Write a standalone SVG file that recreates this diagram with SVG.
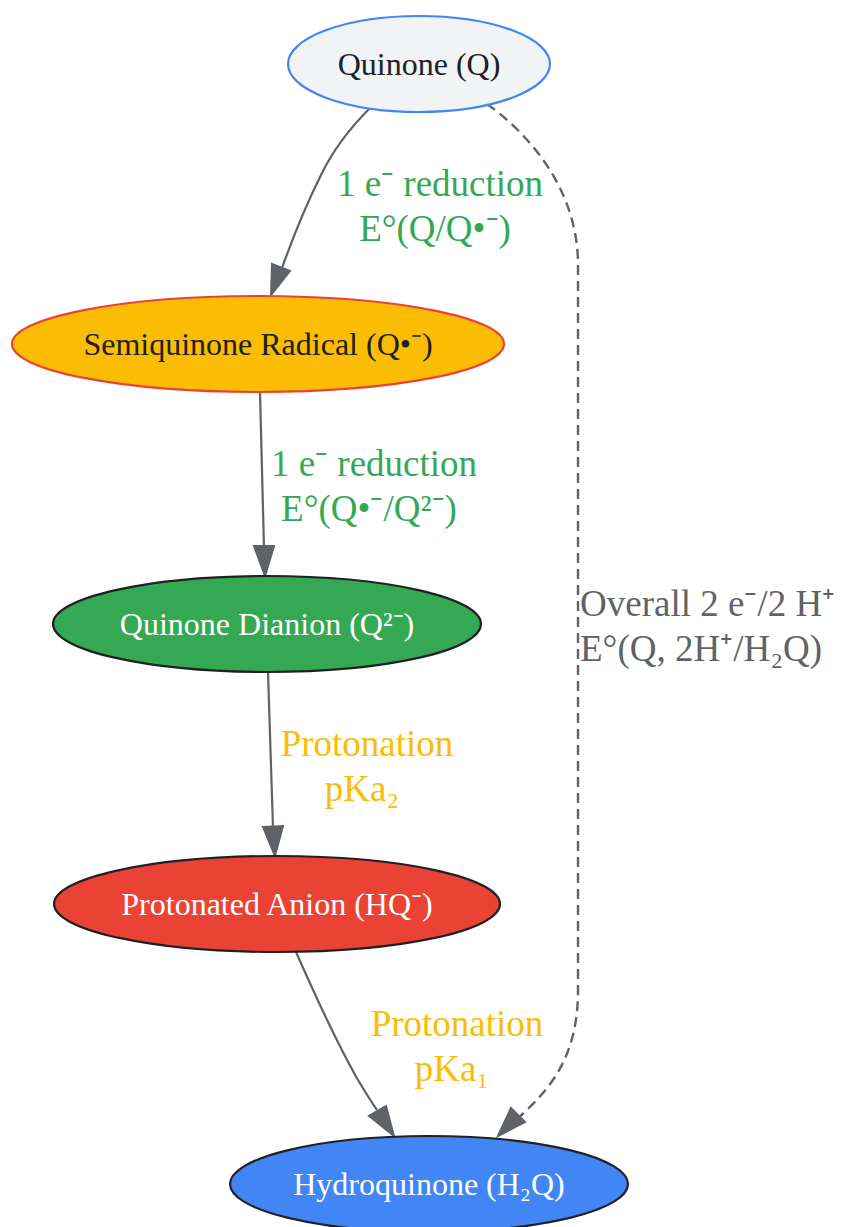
<svg xmlns="http://www.w3.org/2000/svg" width="851" height="1227" viewBox="0 0 851 1227">
<style>
text{font-family:"Liberation Serif","Times New Roman",serif;}
.nl{font-size:32px;text-anchor:middle;}
.el{font-size:37px;text-anchor:middle;}
.e{fill:none;stroke:#5f6368;stroke-width:2.2;}
.d{stroke-dasharray:10,6;stroke-width:2.4;}
.ah{fill:#5f6368;stroke:#5f6368;stroke-width:2;}
</style>
<rect width="851" height="1227" fill="#ffffff"/>
<g id="connectors">
<path class="e" d="M370,108 C350,128 333,150 321,175 C306,205 292,240 282,268"/>
<polygon class="ah" points="271,295 272,264 290,271"/>
<path class="e" d="M260,392 L264,548"/>
<polygon class="ah" points="265,576 254,546 274,546"/>
<path class="e" d="M268,672 L273,828"/>
<polygon class="ah" points="275,856 263,827 283,826"/>
<path class="e" d="M296,952 C315,995 338,1045 358,1080 C364,1090 370,1100 377,1110"/>
<polygon class="ah" points="394,1136 369,1116 386,1106"/>
<path class="e d" d="M487,104 C530,135 578,190 578,265 L578,990 C578,1055 552,1088 518,1118"/>
<polygon class="ah" points="498,1136 511,1108 525,1122"/>
<text class="el" x="440" y="196" fill="#34a853">1 e⁻ reduction</text>
<text class="el" x="435" y="241" fill="#34a853">E°(Q/Q•⁻)</text>
<text class="el" x="374" y="476" fill="#34a853">1 e⁻ reduction</text>
<text class="el" x="369" y="521" fill="#34a853">E°(Q•⁻/Q²⁻)</text>
<text class="el" x="367" y="756" fill="#fbbc04">Protonation</text>
<text class="el" x="362" y="801" fill="#fbbc04">pKa₂</text>
<text class="el" x="457" y="1036" fill="#fbbc04">Protonation</text>
<text class="el" x="452" y="1081" fill="#fbbc04">pKa₁</text>
<text x="580" y="616" font-size="37" fill="#5f6368">Overall 2 e⁻/2 H⁺</text>
<text x="580" y="661" font-size="37" fill="#5f6368">E°(Q, 2H⁺/H₂Q)</text>
</g>
<g id="quinone">
<ellipse cx="419" cy="64" rx="131" ry="48" fill="#f1f3f4" stroke="#4285f4" stroke-width="2.2"/>
<text class="nl" x="419" y="75" fill="#202124">Quinone (Q)</text>
</g>
<g id="semiquinone">
<ellipse cx="258" cy="344" rx="246" ry="48" fill="#fbbc04" stroke="#ea4335" stroke-width="2.2"/>
<text class="nl" x="258" y="355" fill="#202124">Semiquinone Radical (Q•⁻)</text>
</g>
<g id="dianion">
<ellipse cx="267" cy="624" rx="214" ry="48" fill="#34a853" stroke="#202124" stroke-width="2.2"/>
<text class="nl" x="267" y="635" fill="#ffffff">Quinone Dianion (Q²⁻)</text>
</g>
<g id="anion">
<ellipse cx="277" cy="904" rx="223" ry="48" fill="#ea4335" stroke="#202124" stroke-width="2.2"/>
<text class="nl" x="277" y="915" fill="#ffffff">Protonated Anion (HQ⁻)</text>
</g>
<g id="hydroquinone">
<ellipse cx="429" cy="1184" rx="199" ry="48" fill="#4285f4" stroke="#202124" stroke-width="2.2"/>
<text class="nl" x="429" y="1195" fill="#ffffff">Hydroquinone (H₂Q)</text>
</g>
</svg>
